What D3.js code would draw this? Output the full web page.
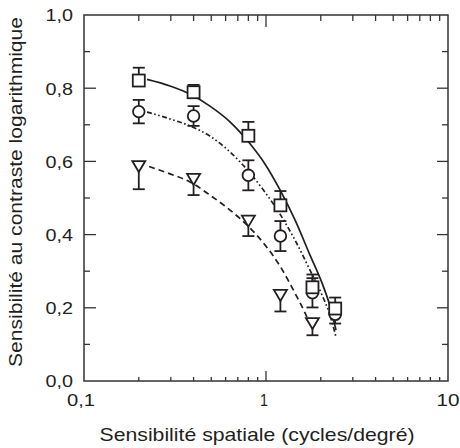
<!DOCTYPE html>
<html><head><meta charset="utf-8">
<script src="https://cdn.jsdelivr.net/npm/d3@7"></script>
<style>html,body{margin:0;padding:0;background:#fff;}svg{display:block;}</style>
</head><body>
<script>
// ---- data ----
const freq = [0.2, 0.4, 0.8, 1.2, 1.8, 2.4];
const squareVals = [0.821, 0.789, 0.670, 0.480, 0.256, 0.198];
const squareErr  = [0.035, 0.020, 0.038, 0.039, 0.035, 0.030];
const circleVals = [0.736, 0.724, 0.562, 0.396, 0.241, 0.182];
const circleErr  = [0.032, 0.027, 0.041, 0.041, 0.040, 0.025];
const triFreq = [0.2, 0.4, 0.8, 1.2, 1.8];
const triVals = [0.590, 0.555, 0.441, 0.238, 0.161];
const triErr  = [0.066, 0.047, 0.045, 0.048, 0.036];

const solidX = [0.222, 0.297, 0.382, 0.492, 0.634, 0.817, 0.987, 1.194, 1.443, 1.745, 2.031, 2.247, 2.425];
const solidY = [0.824, 0.806, 0.784, 0.751, 0.708, 0.648, 0.593, 0.522, 0.440, 0.344, 0.268, 0.205, 0.139];
const dashDotX = [0.222, 0.297, 0.382, 0.492, 0.634, 0.817, 0.987, 1.194, 1.443, 1.745, 2.031, 2.247, 2.425];
const dashDotY = [0.735, 0.716, 0.697, 0.669, 0.626, 0.568, 0.516, 0.456, 0.385, 0.303, 0.235, 0.180, 0.120];
const dashX = [0.228, 0.297, 0.382, 0.492, 0.634, 0.817, 0.987, 1.194, 1.443, 1.638, 1.723];
const dashY = [0.586, 0.566, 0.544, 0.508, 0.467, 0.418, 0.372, 0.314, 0.240, 0.186, 0.161];

const xTickLabels = ["0,1", "1", "10"];
const yTickLabels = ["0,0", "0,2", "0,4", "0,6", "0,8", "1,0"];
const xTitle = "Sensibilité spatiale (cycles/degré)";
const yTitle = "Sensibilité au contraste logarithmique";

// ---- layout ----
const W = 460, H = 448;
const L = 84, R = 448, T = 15, B = 381;
const ink = "#231f20", frame = "#333", txt = "#231f20";
const font = "'Liberation Sans', Arial, Helvetica, sans-serif";

const x = d3.scaleLog().domain([0.1, 10]).range([L, R]);
const y = d3.scaleLinear().domain([0, 1]).range([B, T]);

const svg = d3.select("body").append("svg").attr("width", W).attr("height", H);

// frame
svg.append("rect").attr("x", L).attr("y", T).attr("width", R - L).attr("height", B - T)
  .attr("fill", "none").attr("stroke", frame).attr("stroke-width", 1.5);

// x ticks (inward, bottom and top)
const xTicksAll = [];
for (let d = 1; d <= 2; d++) for (let k = 1; k <= 9; k++) xTicksAll.push(k * Math.pow(10, d - 2));
const xMajor = v => Math.abs(Math.log10(v) - Math.round(Math.log10(v))) < 1e-9;
const gx = svg.append("g").attr("stroke", frame).attr("stroke-width", 1.3);
xTicksAll.filter(v => v > 0.1 && v < 10).forEach(v => {
  const px = x(v), maj = xMajor(v);
  gx.append("line").attr("x1", px).attr("x2", px).attr("y1", B).attr("y2", B - (maj ? 10 : 4));
  gx.append("line").attr("x1", px).attr("x2", px).attr("y1", T).attr("y2", T + (maj ? 12 : 6));
});
// y ticks
const gy = svg.append("g").attr("stroke", frame).attr("stroke-width", 1.3);
d3.range(1, 10).forEach(i => {
  const v = i / 10, py = y(v), maj = i % 2 === 0;
  gy.append("line").attr("x1", L).attr("x2", L + (maj ? 12 : 6)).attr("y1", py).attr("y2", py);
  gy.append("line").attr("x1", R).attr("x2", R - (maj ? 11 : 6)).attr("y1", py).attr("y2", py);
});

// tick labels
const xTickVals = [0.1, 1, 10];
const xTickLen = [28, 8, 23];
const xTickDx = [-3, -2, 0];
svg.append("g").selectAll("text").data(xTickVals).join("text")
  .attr("x", (d, i) => x(d) + xTickDx[i]).attr("y", 406).attr("text-anchor", "middle")
  .attr("font-family", font).attr("font-size", 17).attr("fill", txt)
  .attr("textLength", (d, i) => xTickLen[i]).attr("lengthAdjust", "spacingAndGlyphs")
  .text((d, i) => xTickLabels[i]);
const yTickVals = [0, 0.2, 0.4, 0.6, 0.8, 1.0];
svg.append("g").selectAll("text").data(yTickVals).join("text")
  .attr("x", 73).attr("y", d => y(d)).attr("dy", "0.4em").attr("text-anchor", "end")
  .attr("font-family", font).attr("font-size", 16).attr("fill", txt)
  .attr("textLength", 27.5).attr("lengthAdjust", "spacingAndGlyphs")
  .text((d, i) => yTickLabels[i]);

// titles
svg.append("text").attr("x", 257).attr("y", 441).attr("text-anchor", "middle")
  .attr("font-family", font).attr("font-size", 18.5).attr("fill", txt)
  .attr("textLength", 315).attr("lengthAdjust", "spacingAndGlyphs").text(xTitle);
svg.append("text").attr("transform", "translate(22,192) rotate(-90)").attr("text-anchor", "middle")
  .attr("font-family", font).attr("font-size", 17.5).attr("fill", txt)
  .attr("textLength", 350).attr("lengthAdjust", "spacingAndGlyphs").text(yTitle);

// curves
const line = d3.line().x(d => x(d[0])).y(d => y(d[1])).curve(d3.curveMonotoneX);
const curves = [
  {xs: solidX, ys: solidY, dash: null},
  {xs: dashDotX, ys: dashDotY, dash: "5,2.5,1.6,2.5,1.6,2.5"},
  {xs: dashX, ys: dashY, dash: "6,4"}
];
curves.forEach(c => {
  svg.append("path").attr("d", line(c.xs.map((v, i) => [v, c.ys[i]])))
    .attr("fill", "none").attr("stroke", ink).attr("stroke-width", 1.7)
    .attr("stroke-dasharray", c.dash);
});

// error bars
const cap = 6;
function errBar(g, fx, vals, errs, up, down) {
  vals.forEach((v, i) => {
    const px = x(fx[i]);
    const y1 = down ? y(v - errs[i]) : y(v);
    const y2 = up ? y(v + errs[i]) : y(v);
    g.append("line").attr("x1", px).attr("x2", px).attr("y1", y1).attr("y2", y2);
    if (up) g.append("line").attr("x1", px - cap).attr("x2", px + cap).attr("y1", y2).attr("y2", y2);
    if (down) g.append("line").attr("x1", px - cap).attr("x2", px + cap).attr("y1", y1).attr("y2", y1);
  });
}
const ge = svg.append("g").attr("stroke", ink).attr("stroke-width", 1.8);
errBar(ge, triFreq, triVals, triErr, false, true);
errBar(ge, freq, circleVals, circleErr, true, true);
errBar(ge, freq, squareVals, squareErr, true, false);

// markers
const gm = svg.append("g").attr("stroke", ink).attr("stroke-width", 1.8).attr("fill", "#fff");
gm.selectAll(".tri").data(triVals).join("path")
  .attr("d", (v, i) => {
    const px = x(triFreq[i]), py = y(v);
    return `M${px - 6.5},${py - 4}L${px + 6.5},${py - 4}L${px},${py + 7}Z`;
  });
gm.selectAll(".circ").data(circleVals).join("circle")
  .attr("cx", (v, i) => x(freq[i])).attr("cy", v => y(v)).attr("r", 5.8);
gm.selectAll(".sq").data(squareVals).join("rect")
  .attr("x", (v, i) => x(freq[i]) - 6).attr("y", v => y(v) - 6)
  .attr("width", 12).attr("height", 12);
</script>
</body></html>
